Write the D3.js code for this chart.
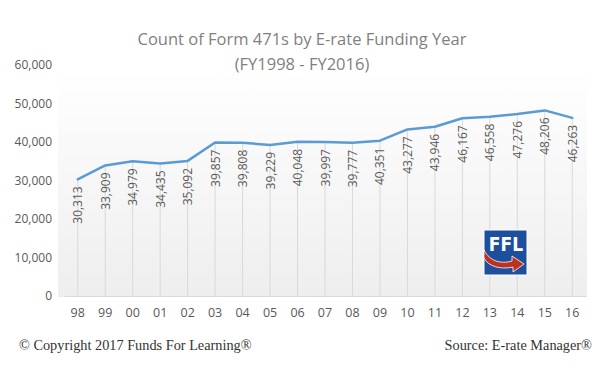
<!DOCTYPE html>
<html>
<head>
<meta charset="utf-8">
<script src="https://cdn.jsdelivr.net/npm/d3@7"></script>
<style>
  body { margin: 0; background: #fff; }
</style>
</head>
<body>
<div id="chart"></div>
<script>
// Data
const years = ['98', '99', '00', '01', '02', '03', '04', '05', '06', '07',
               '08', '09', '10', '11', '12', '13', '14', '15', '16'];
const counts = [30313, 33909, 34979, 34435, 35092, 39857, 39808, 39229, 40048, 39997,
                39777, 40351, 43277, 43946, 46167, 46558, 47276, 48206, 46263];
const yTicks = [0, 10000, 20000, 30000, 40000, 50000, 60000];

const data = years.map((y, i) => ({ year: y, value: counts[i] }));

let width = 611, height = 372;
let margin = { top: 65, bottom: 76, left: 64, right: 25 };

let svg = d3.select('#chart')
            .append('svg')
            .attr('width', width)
            .attr('height', height)
            .style('font-family', 'Open Sans, sans-serif');

// soft gradient behind the plot
let defs = svg.append('defs');
let grad = defs.append('linearGradient')
               .attr('id', 'bg')
               .attr('x1', 0).attr('y1', 0).attr('x2', 0).attr('y2', 1);
grad.append('stop').attr('offset', '0%').attr('stop-color', '#ffffff');
grad.append('stop').attr('offset', '100%').attr('stop-color', '#eeeeee');

svg.append('rect')
   .attr('x', 58)
   .attr('y', 70)
   .attr('width', width - margin.right - 58 + 1)
   .attr('height', height - margin.bottom - 70 + 1)
   .attr('fill', 'url(#bg)');

// scales
let xscale = d3.scaleBand()
               .domain(years)
               .range([margin.left, width - margin.right]);

let yscale = d3.scaleLinear()
               .domain([0, 60000])
               .range([height - margin.bottom, margin.top]);

const cx = d => xscale(d.year) + xscale.bandwidth() / 2;

// title
svg.append('text')
   .attr('x', 302).attr('y', 45)
   .attr('text-anchor', 'middle')
   .style('font-size', '16.5px')
   .attr('fill', '#7f7f7f')
   .text('Count of Form 471s by E-rate Funding Year');
svg.append('text')
   .attr('x', 302).attr('y', 70)
   .attr('text-anchor', 'middle')
   .style('font-size', '16.5px')
   .attr('fill', '#7f7f7f')
   .text('(FY1998 - FY2016)');

// y axis (labels only)
let yaxis = svg.append('g')
               .attr('transform', `translate(${margin.left - 9}, 0)`)
               .call(d3.axisLeft(yscale).tickValues(yTicks).tickSize(0).tickFormat(d3.format(',')));
yaxis.select('.domain').remove();
yaxis.selectAll('text')
     .attr('fill', '#595959')
     .style('font-size', '12px')
     .style('font-family', 'Open Sans, sans-serif');

// x axis baseline + labels
let xaxis = svg.append('g')
               .attr('transform', `translate(0, ${height - margin.bottom})`)
               .call(d3.axisBottom(xscale).tickSize(0).tickPadding(12));
xaxis.select('.domain').attr('stroke', '#d9d9d9');
xaxis.selectAll('text')
     .attr('fill', '#595959')
     .style('font-size', '12.5px')
     .style('font-family', 'Open Sans, sans-serif');

// drop lines
svg.append('g')
   .selectAll('line')
   .data(data)
   .enter()
   .append('line')
   .attr('x1', cx).attr('x2', cx)
   .attr('y1', d => yscale(d.value))
   .attr('y2', yscale(0))
   .attr('stroke', '#d9d9d9')
   .attr('stroke-width', 1);

// the line
let line = d3.line()
             .x(cx)
             .y(d => yscale(d.value));

svg.append('path')
   .datum(data)
   .attr('d', line)
   .attr('fill', 'none')
   .attr('stroke', '#5b9bd5')
   .attr('stroke-width', 2.5)
   .attr('stroke-linejoin', 'round')
   .attr('stroke-linecap', 'round');

// rotated value labels under each point
svg.append('g')
   .selectAll('text')
   .data(data)
   .enter()
   .append('text')
   .attr('transform', d => `translate(${cx(d) + 4.5}, ${yscale(d.value) + 7}) rotate(-90)`)
   .attr('text-anchor', 'end')
   .attr('fill', '#595959')
   .style('font-size', '12px')
   .text(d => d3.format(',')(d.value));

// FFL logo
let logo = svg.append('g').attr('transform', 'translate(484, 230)');
logo.append('rect')
    .attr('width', 43).attr('height', 45)
    .attr('fill', '#1d4f9c')
    .attr('stroke', '#ffffff').attr('stroke-width', 1);
logo.append('text')
    .attr('x', 22).attr('y', 21)
    .attr('text-anchor', 'middle')
    .attr('fill', '#ffffff')
    .style('font-family', 'DejaVu Sans Condensed, sans-serif')
    .style('font-weight', 'bold')
    .style('font-size', '19px')
    .text('FFL');
logo.append('path')
    .attr('d', 'M0,20 C6,32 18,34 28,31 L28,26 L40,34 L29,42 L29,37 C16,40 4,36 0,28 Z')
    .attr('fill', '#c0301f')
    .attr('stroke', '#ffffff')
    .attr('stroke-width', 0.8);

// footer
svg.append('text')
   .attr('x', 19).attr('y', 350)
   .attr('fill', '#333333')
   .style('font-family', 'Liberation Serif, serif')
   .style('font-size', '14.3px')
   .text('© Copyright 2017 Funds For Learning®');
svg.append('text')
   .attr('x', 592).attr('y', 350)
   .attr('text-anchor', 'end')
   .attr('fill', '#333333')
   .style('font-family', 'Liberation Serif, serif')
   .style('font-size', '14.3px')
   .text('Source: E-rate Manager®');
</script>
</body>
</html>
